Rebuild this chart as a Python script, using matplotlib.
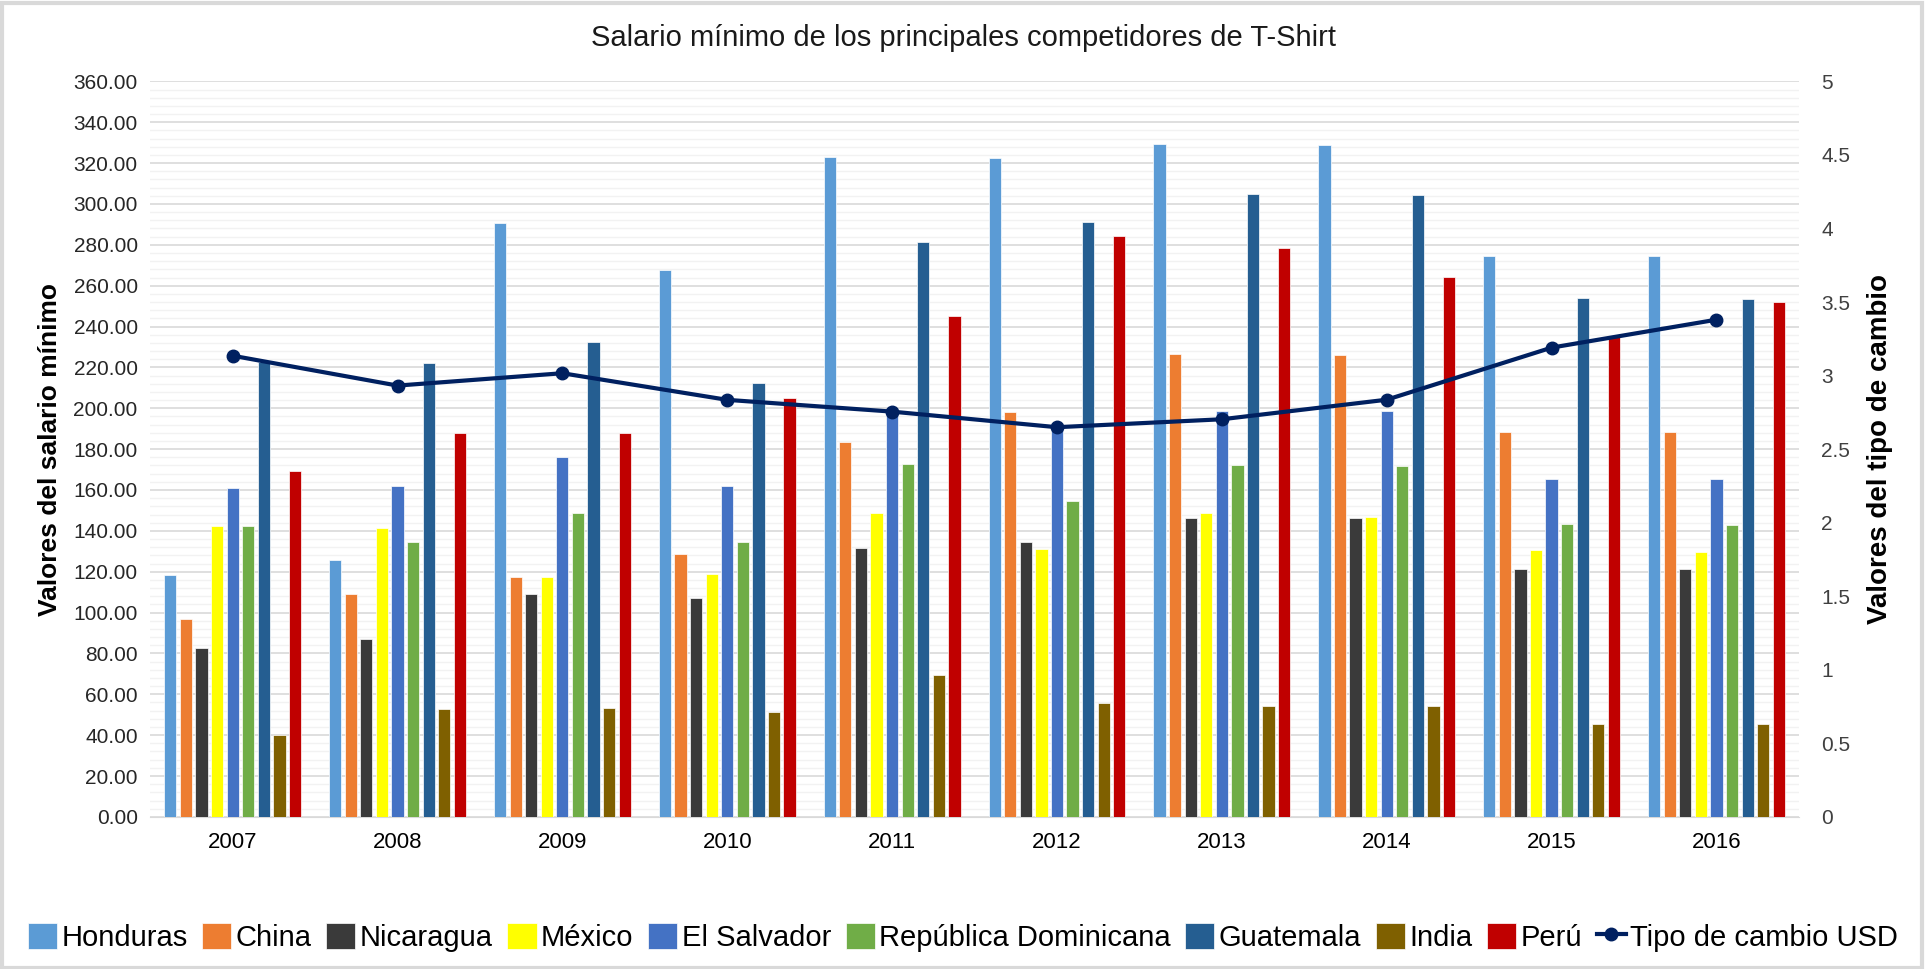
import numpy as np
import matplotlib.pyplot as plt
from matplotlib.ticker import MultipleLocator, FormatStrFormatter
from matplotlib.patches import Rectangle

plt.rcParams['font.family'] = ['Liberation Sans', 'DejaVu Sans']

years = ['2007', '2008', '2009', '2010', '2011', '2012', '2013', '2014', '2015', '2016']

honduras = [118.4, 125.6, 290.8, 267.5, 322.9, 322.4, 329.6, 329.1, 274.5, 274.4]
china = [96.7, 108.9, 117.2, 128.8, 183.3, 198.4, 226.6, 226.1, 188.2, 188.2]
nicaragua = [82.8, 87.2, 108.9, 107.1, 131.8, 134.4, 146.1, 146.1, 121.3, 121.3]
mexico = [142.2, 141.2, 117.2, 119.0, 148.7, 131.1, 148.7, 146.6, 130.4, 129.8]
el_salvador = [161.1, 162.1, 176.0, 161.8, 198.5, 190.2, 198.9, 198.9, 165.6, 165.6]
rep_dominicana = [142.2, 134.5, 148.7, 134.4, 172.8, 154.4, 172.2, 171.7, 143.3, 142.7]
guatemala = [222.5, 222.3, 232.5, 212.2, 281.6, 291.1, 305.0, 304.3, 253.9, 253.4]
india = [40.0, 52.7, 53.4, 51.1, 69.4, 55.5, 54.5, 54.5, 45.6, 45.6]
peru = [169.5, 187.8, 187.8, 205.0, 245.0, 284.4, 278.4, 264.1, 235.4, 251.8]

tipo_cambio = [3.135, 2.932, 3.016, 2.835, 2.755, 2.649, 2.703, 2.836, 3.19, 3.38]

series = [
    ('Honduras', honduras, '#5B9BD5'),
    ('China', china, '#ED7D31'),
    ('Nicaragua', nicaragua, '#3A3A3A'),
    ('México', mexico, '#FFFF00'),
    ('El Salvador', el_salvador, '#4472C4'),
    ('República Dominicana', rep_dominicana, '#70AD47'),
    ('Guatemala', guatemala, '#255E91'),
    ('India', india, '#7F6000'),
    ('Perú', peru, '#C00000'),
]

fig = plt.figure(figsize=(19.26, 9.69), dpi=100)
ax = fig.add_axes([0.078, 0.157, 0.856, 0.759])

x = np.arange(len(years))
step = 0.0945
width = 0.074
for i, (name, vals, col) in enumerate(series):
    ax.bar(x + (i - 4) * step, vals, width, color=col, label=name,
           edgecolor='white', linewidth=0.5, zorder=3)

ax.set_xlim(-0.5, len(years) - 0.5)
ax.set_ylim(0, 360)
ax.yaxis.set_major_locator(MultipleLocator(20))
ax.yaxis.set_minor_locator(MultipleLocator(4))
ax.yaxis.set_major_formatter(FormatStrFormatter('%.2f'))
ax.grid(axis='y', which='major', color='#d9d9d9', linewidth=1.2, zorder=0)
ax.grid(axis='y', which='minor', color='#f2f2f2', linewidth=1.0, zorder=0)
ax.set_axisbelow(True)
ax.set_xticks(x)
ax.set_xticklabels(years)
ax.tick_params(axis='x', length=0, pad=11, labelsize=16)
ax.tick_params(axis='y', which='both', length=0, pad=9, labelsize=15, labelcolor='#262626')
for s in ['top', 'left', 'right']:
    ax.spines[s].set_visible(False)
ax.spines['bottom'].set_color('#d9d9d9')
ax.set_ylabel('Valores del salario mínimo', fontsize=19, fontweight='bold', labelpad=8)

ax2 = ax.twinx()
ax2.plot(x, tipo_cambio, color='#002060', linewidth=3, marker='o', markersize=9,
         label='Tipo de cambio USD', zorder=5)
ax2.set_ylim(0, 5)
ax2.yaxis.set_major_locator(MultipleLocator(0.5))
ax2.yaxis.set_major_formatter(plt.FuncFormatter(lambda v, p: f'{v:g}'))
ax2.tick_params(axis='y', length=0, pad=16, labelsize=15, labelcolor='#404040')
for s in ['top', 'left', 'right', 'bottom']:
    ax2.spines[s].set_visible(False)
ax2.set_ylabel('Valores del tipo de cambio', fontsize=20, fontweight='bold', labelpad=12)

fig.suptitle('Salario mínimo de los principales competidores de T-Shirt',
             y=0.975, fontsize=21, color='#1a1a1a')

h1, l1 = ax.get_legend_handles_labels()
h2, l2 = ax2.get_legend_handles_labels()
fig.legend(h1 + h2, l1 + l2, loc='center', bbox_to_anchor=(0.5, 0.033), ncol=10,
           frameon=False, fontsize=21, handlelength=1.0, handleheight=1.0,
           handletextpad=0.15, columnspacing=0.5, borderaxespad=0)

fig.patches.append(Rectangle((0.001, 0.001), 0.997, 0.996, transform=fig.transFigure,
                             fill=False, edgecolor='#d9d9d9', linewidth=3))

fig.savefig('out.png', dpi=100)
